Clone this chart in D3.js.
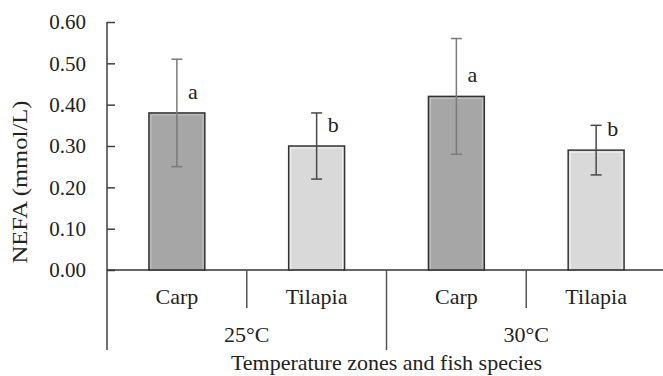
<!DOCTYPE html>
<html>
<head>
<meta charset="utf-8">
<script src="https://cdn.jsdelivr.net/npm/d3@7"></script>
<style>
  body { margin: 0; background: #fff; }
</style>
</head>
<body>
<div id="chart"></div>
<script>
// data
const zones = ["25°C", "30°C"];
const species = ["Carp", "Tilapia"];
const means = [0.38, 0.30, 0.42, 0.29];
const sds = [0.13, 0.08, 0.14, 0.06];
const letters = ["a", "b", "a", "b"];
const yTicks = [0, 0.1, 0.2, 0.3, 0.4, 0.5, 0.6];

const width = 663;
const height = 376;
const marginTop = 22;
const marginLeft = 107;
const plotBottom = 270;
const plotRight = 666;
const serif = '"Liberation Serif"';

const fills = { Carp: "#a6a6a6", Tilapia: "#d9d9d9" };
const innerLines = { Carp: "#c4c4c4", Tilapia: "#f2f2f2" };
const errColors = { Carp: "#7a7a7a", Tilapia: "#4a4a4a" };

// one row per bar
const rows = [];
zones.forEach((z, i) => species.forEach((s, j) => {
  const k = i * species.length + j;
  rows.push({ key: z + "|" + s, zone: z, species: s, mean: means[k], sd: sds[k], letter: letters[k] });
}));

const x = d3.scaleBand().domain(rows.map(d => d.key)).range([marginLeft, plotRight]).padding(0);
const y = d3.scaleLinear().domain([0, 0.6]).range([plotBottom, marginTop]);

const svg = d3.create("svg").attr("width", width).attr("height", height);

// y axis, ticks pointing inward
svg.append("g")
  .attr("transform", `translate(${marginLeft},0)`)
  .call(d3.axisLeft(y).tickValues(yTicks).tickFormat(d3.format(".2f")).tickSize(-8).tickPadding(21))
  .call(g => g.select(".domain").remove())
  .call(g => g.selectAll(".tick line").attr("stroke", "#404040").attr("stroke-width", 1.5))
  .call(g => g.selectAll(".tick text").attr("font-size", 21).attr("fill", "#222").style("font-family", serif));

svg.append("line")
  .attr("x1", marginLeft).attr("x2", marginLeft)
  .attr("y1", y(0.6)).attr("y2", 350)
  .attr("stroke", "#404040").attr("stroke-width", 1.5);

// bars (dark outline with a light inner line, like the original)
const barW = x.bandwidth() * 0.4;
const bars = svg.append("g").selectAll("g").data(rows).join("g");
bars.append("rect")
  .attr("x", d => x(d.key) + (x.bandwidth() - barW) / 2)
  .attr("y", d => y(d.mean))
  .attr("width", barW)
  .attr("height", d => y(0) - y(d.mean))
  .attr("fill", d => fills[d.species])
  .attr("stroke", "#333")
  .attr("stroke-width", 1.5);
bars.append("rect")
  .attr("x", d => x(d.key) + (x.bandwidth() - barW) / 2 + 2)
  .attr("y", d => y(d.mean) + 2)
  .attr("width", barW - 4)
  .attr("height", d => y(0) - y(d.mean) - 2)
  .attr("fill", "none")
  .attr("stroke", d => innerLines[d.species])
  .attr("stroke-width", 1);

// error bars
const err = svg.append("g").selectAll("g").data(rows).join("g")
  .attr("stroke", d => errColors[d.species]).attr("stroke-width", 1.5);
const cx = d => x(d.key) + x.bandwidth() / 2;
err.append("line")
  .attr("x1", cx).attr("x2", cx)
  .attr("y1", d => y(d.mean - d.sd)).attr("y2", d => y(d.mean + d.sd));
err.append("line")
  .attr("x1", d => cx(d) - 5.5).attr("x2", d => cx(d) + 5.5)
  .attr("y1", d => y(d.mean + d.sd)).attr("y2", d => y(d.mean + d.sd));
err.append("line")
  .attr("x1", d => cx(d) - 5.5).attr("x2", d => cx(d) + 5.5)
  .attr("y1", d => y(d.mean - d.sd)).attr("y2", d => y(d.mean - d.sd));

// significance letters
svg.append("g").selectAll("text").data(rows).join("text")
  .attr("x", d => cx(d) + 11)
  .attr("y", d => y(d.mean) - 14)
  .attr("font-size", 22)
  .attr("fill", "#222")
  .style("font-family", serif)
  .text(d => d.letter);

// x axis line
svg.append("line")
  .attr("x1", marginLeft).attr("x2", plotRight)
  .attr("y1", y(0)).attr("y2", y(0))
  .attr("stroke", "#333").attr("stroke-width", 1.5);

// species labels and separators
svg.append("g").selectAll("text").data(rows).join("text")
  .attr("x", cx).attr("y", 304)
  .attr("text-anchor", "middle").attr("font-size", 22).attr("fill", "#222")
  .style("font-family", serif)
  .text(d => d.species);

svg.append("g").selectAll("line")
  .data(rows.filter(d => d.species !== species[0])).join("line")
  .attr("x1", d => x(d.key)).attr("x2", d => x(d.key))
  .attr("y1", y(0)).attr("y2", 308)
  .attr("stroke", "#555").attr("stroke-width", 1.5);

// zone labels and separators
const zoneX = z => {
  const ks = rows.filter(d => d.zone === z);
  return [x(ks[0].key), x(ks[ks.length - 1].key) + x.bandwidth()];
};
svg.append("g").selectAll("text").data(zones).join("text")
  .attr("x", z => d3.mean(zoneX(z))).attr("y", 342)
  .attr("text-anchor", "middle").attr("font-size", 22).attr("fill", "#222")
  .style("font-family", serif)
  .text(z => z);

svg.append("g").selectAll("line").data(zones.slice(1)).join("line")
  .attr("x1", z => zoneX(z)[0]).attr("x2", z => zoneX(z)[0])
  .attr("y1", y(0)).attr("y2", 350)
  .attr("stroke", "#555").attr("stroke-width", 1.5);

// axis titles
svg.append("text")
  .attr("x", (marginLeft + plotRight) / 2).attr("y", 370)
  .attr("text-anchor", "middle").attr("font-size", 22).attr("fill", "#222")
  .style("font-family", serif)
  .text("Temperature zones and fish species");

svg.append("text")
  .attr("transform", `translate(27,182) rotate(-90)`)
  .attr("text-anchor", "middle").attr("font-size", 22).attr("fill", "#222")
  .style("font-family", serif)
  .attr("textLength", 163).attr("lengthAdjust", "spacingAndGlyphs")
  .text("NEFA (mmol/L)");

document.getElementById("chart").appendChild(svg.node());
</script>
</body>
</html>
